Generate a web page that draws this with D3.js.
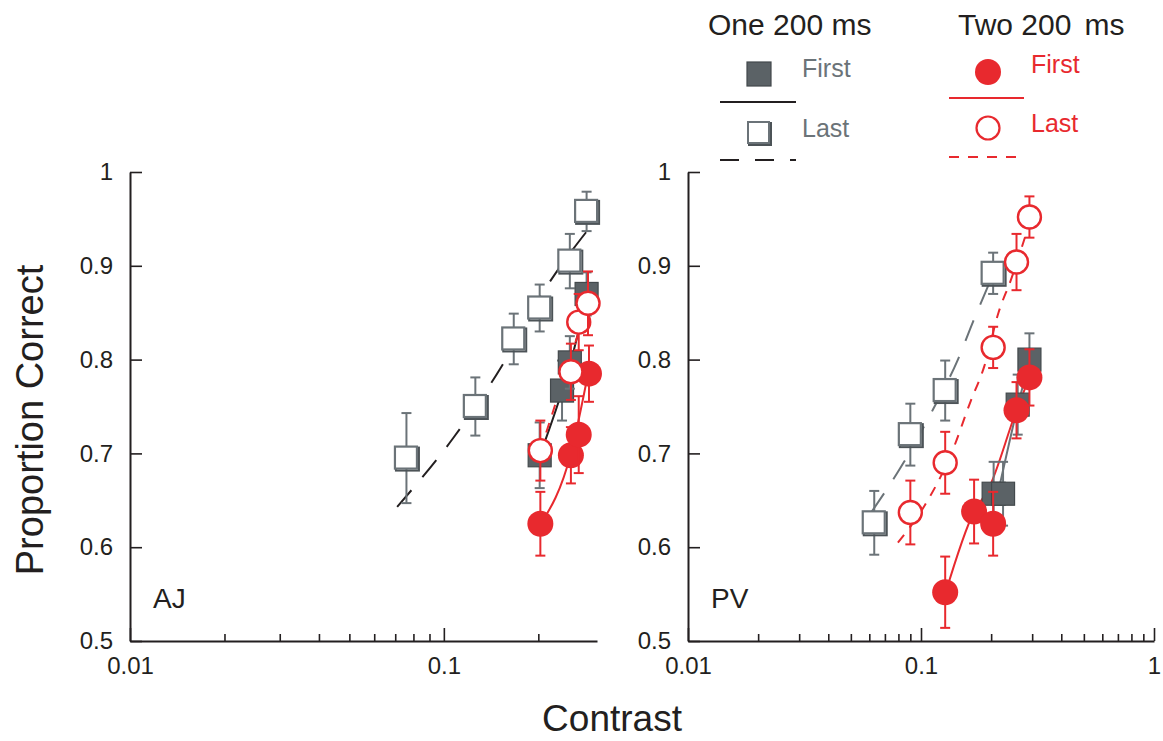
<!DOCTYPE html>
<html>
<head>
<meta charset="utf-8">
<script src="https://cdn.jsdelivr.net/npm/d3@7"></script>
<style>
  body { margin: 0; background: #fff; }
  text { font-family: "Liberation Sans", Arial, Helvetica, sans-serif; }
</style>
</head>
<body>
<div id="chart"></div>
<script>
// ---- data ----
const yTicks = [0.5, 0.6, 0.7, 0.8, 0.9, 1];
const xMajorTicks = [0.01, 0.1, 1];
const xTickLabels = ["0.01", "0.1", "1"];

// AJ
const ajOneLastC  = [0.076, 0.126, 0.167, 0.202, 0.252, 0.285];
const ajOneLastP  = [0.695, 0.750, 0.822, 0.855, 0.905, 0.958];
const ajOneLastSe = [0.048, 0.031, 0.027, 0.025, 0.029, 0.021];
const ajOneFirstC  = [0.202, 0.238, 0.252, 0.285];
const ajOneFirstP  = [0.698, 0.767, 0.797, 0.870];
const ajOneFirstSe = [0.035, 0.032, 0.028, 0.023];
const ajTwoFirstC  = [0.203, 0.254, 0.269, 0.290];
const ajTwoFirstP  = [0.625, 0.698, 0.720, 0.785];
const ajTwoFirstSe = [0.034, 0.030, 0.041, 0.030];
const ajTwoLastC  = [0.203, 0.254, 0.269, 0.288];
const ajTwoLastP  = [0.703, 0.787, 0.840, 0.860];
const ajTwoLastSe = [0.032, 0.030, 0.030, 0.034];
const ajOneLastFit  = [[0.071, 0.643], [0.108, 0.718], [0.151, 0.79], [0.21, 0.875], [0.292, 0.941]];
const ajOneFirstFit = [[0.21, 0.713], [0.25, 0.79], [0.292, 0.88]];
const ajTwoFirstFit = [[0.203, 0.624], [0.254, 0.70], [0.29, 0.79]];
const ajTwoLastFit  = [[0.203, 0.703], [0.288, 0.86]];

// PV
const pvOneLastC  = [0.063, 0.090, 0.127, 0.204];
const pvOneLastP  = [0.626, 0.720, 0.767, 0.892];
const pvOneLastSe = [0.034, 0.033, 0.032, 0.022];
const pvOneFirstC  = [0.205, 0.225, 0.260, 0.292];
const pvOneFirstP  = [0.657, 0.657, 0.752, 0.800];
const pvOneFirstSe = [0.034, 0.034, 0.032, 0.028];
const pvTwoFirstC  = [0.127, 0.169, 0.204, 0.257, 0.292];
const pvTwoFirstP  = [0.552, 0.638, 0.625, 0.746, 0.781];
const pvTwoFirstSe = [0.038, 0.034, 0.034, 0.030, 0.030];
const pvTwoLastC  = [0.090, 0.127, 0.204, 0.257, 0.292];
const pvTwoLastP  = [0.637, 0.690, 0.813, 0.904, 0.952];
const pvTwoLastSe = [0.034, 0.033, 0.022, 0.030, 0.022];
const pvOneLastFit  = [[0.0615, 0.638], [0.0846, 0.691], [0.1127, 0.747], [0.144, 0.8], [0.167, 0.84], [0.2, 0.886]];
const pvOneFirstFit = [[0.215, 0.66], [0.26, 0.75], [0.292, 0.8]];
const pvTwoFirstFit = [[0.127, 0.55], [0.169, 0.638], [0.194, 0.661], [0.257, 0.746], [0.292, 0.781]];
const pvTwoLastFit  = [[0.0796, 0.605], [0.104, 0.645], [0.135, 0.70], [0.163, 0.755], [0.187, 0.793], [0.215, 0.85], [0.244, 0.886], [0.284, 0.936]];

// ---- styles ----
const black = "#231f20";
const gray = "#6b7378";
const darkGray = "#5b6266";
const red = "#e8292e";

const width = 1163, height = 741;
const svg = d3.select("#chart").append("svg")
    .attr("width", width)
    .attr("height", height);

const zip = (c, p, se) => c.map((v, i) => ({ c: v, p: p[i], se: se[i] }));

const panels = [
  {
    label: "AJ", left: 130, right: 597, xMax: 0.3076, fitOne: black,
    oneLast: zip(ajOneLastC, ajOneLastP, ajOneLastSe),
    oneFirst: zip(ajOneFirstC, ajOneFirstP, ajOneFirstSe),
    twoFirst: zip(ajTwoFirstC, ajTwoFirstP, ajTwoFirstSe),
    twoLast: zip(ajTwoLastC, ajTwoLastP, ajTwoLastSe),
    fits: { oneLast: ajOneLastFit, oneFirst: ajOneFirstFit, twoFirst: ajTwoFirstFit, twoLast: ajTwoLastFit }
  },
  {
    label: "PV", left: 688, right: 1154, xMax: 1, fitOne: gray,
    oneLast: zip(pvOneLastC, pvOneLastP, pvOneLastSe),
    oneFirst: zip(pvOneFirstC, pvOneFirstP, pvOneFirstSe),
    twoFirst: zip(pvTwoFirstC, pvTwoFirstP, pvTwoFirstSe),
    twoLast: zip(pvTwoLastC, pvTwoLastP, pvTwoLastSe),
    fits: { oneLast: pvOneLastFit, oneFirst: pvOneFirstFit, twoFirst: pvTwoFirstFit, twoLast: pvTwoLastFit }
  }
];

const yTop = 172, yBottom = 641;

const drawPanel = (p) => {
  const x = d3.scaleLog().domain([0.01, p.xMax]).range([p.left, p.right]);
  const y = d3.scaleLinear().domain([0.5, 1]).range([yBottom, yTop]);
  const g = svg.append("g");

  // minor x ticks
  const minor = [];
  for (let dec = 0.01; dec < p.xMax; dec *= 10) {
    for (let k = 2; k <= 9; k++) {
      const v = +(dec * k).toPrecision(3);
      if (v < p.xMax * 0.97) minor.push(v);
    }
  }
  g.append("g")
      .attr("transform", `translate(0,${yBottom})`)
      .call(d3.axisBottom(x).tickValues(minor).tickSize(-7).tickSizeOuter(0).tickFormat(""))
      .call(a => a.select(".domain").remove());

  const majors = xMajorTicks.filter(v => v <= p.xMax * 1.001);
  const gx = g.append("g")
      .attr("transform", `translate(0,${yBottom})`)
      .call(d3.axisBottom(x).tickValues(majors).tickSize(-13).tickSizeOuter(0).tickPadding(16)
        .tickFormat(d => xTickLabels[xMajorTicks.indexOf(d)]));
  gx.selectAll("text").attr("font-size", 24).attr("fill", black).attr("font-family", null);

  const gy = g.append("g")
      .attr("transform", `translate(${p.left},0)`)
      .call(d3.axisLeft(y).tickValues(yTicks).tickSize(-12).tickSizeOuter(0).tickPadding(17)
        .tickFormat(d => d3.format("")(d)));
  gy.selectAll("text").attr("font-size", 24).attr("fill", black).attr("font-family", null);

  [gx, gy].forEach(a => {
    a.select(".domain").attr("stroke", black).attr("stroke-width", 2);
  });
  g.selectAll(".tick line").attr("stroke", black).attr("stroke-width", 1.6);

  g.append("text")
      .attr("x", p.left + 23)
      .attr("y", 608)
      .attr("font-size", 28)
      .attr("fill", black)
      .text(p.label);

  // fit lines
  const line = d3.line().x(d => x(d[0])).y(d => y(d[1])).curve(d3.curveMonotoneX);
  g.append("path").datum(p.fits.oneLast).attr("d", line)
      .attr("fill", "none").attr("stroke", p.fitOne).attr("stroke-width", 2).attr("stroke-dasharray", "22,17");
  g.append("path").datum(p.fits.oneFirst).attr("d", line)
      .attr("fill", "none").attr("stroke", p.fitOne).attr("stroke-width", 2);
  g.append("path").datum(p.fits.twoLast).attr("d", line)
      .attr("fill", "none").attr("stroke", red).attr("stroke-width", 2).attr("stroke-dasharray", "10,9");
  g.append("path").datum(p.fits.twoFirst).attr("d", line)
      .attr("fill", "none").attr("stroke", red).attr("stroke-width", 2);

  const errorBars = (sel, color) => {
    sel.append("line")
        .attr("x1", 0).attr("x2", 0)
        .attr("y1", d => y(d.p - d.se) - y(d.p))
        .attr("y2", d => y(d.p + d.se) - y(d.p))
        .attr("stroke", color).attr("stroke-width", 2);
    [-1, 1].forEach(s => {
      sel.append("line")
          .attr("x1", -5).attr("x2", 5)
          .attr("y1", d => y(d.p + s * d.se) - y(d.p))
          .attr("y2", d => y(d.p + s * d.se) - y(d.p))
          .attr("stroke", color).attr("stroke-width", 2);
    });
  };

  const series = (data, color, drawMarker) => {
    const pts = g.append("g").selectAll("g")
        .data(data)
        .join("g")
        .attr("transform", d => `translate(${x(d.c)},${y(d.p)})`);
    errorBars(pts, color);
    drawMarker(pts);
  };

  series(p.oneLast, gray, s => {
    s.append("rect").attr("x", -10.5).attr("y", -10.5).attr("width", 23).attr("height", 23)
        .attr("fill", "none").attr("stroke", "#4c5357").attr("stroke-width", 2);
    s.append("rect").attr("x", -11.5).attr("y", -11.5).attr("width", 22).attr("height", 22)
        .attr("fill", "#fff").attr("stroke", gray).attr("stroke-width", 2.2);
  });
  series(p.oneFirst, gray, s => {
    s.append("rect").attr("x", -11.5).attr("y", -11.5).attr("width", 23).attr("height", 23)
        .attr("fill", darkGray).attr("stroke", "#43494c").attr("stroke-width", 1.2);
  });
  series(p.twoFirst, red, s => {
    s.append("circle").attr("r", 13).attr("fill", red);
  });
  series(p.twoLast, red, s => {
    s.append("circle").attr("r", 11.5).attr("fill", "#fff").attr("stroke", red).attr("stroke-width", 2.4);
  });
};

panels.forEach(drawPanel);

// axis titles
svg.append("text")
    .attr("transform", "translate(43,420) rotate(-90)")
    .attr("text-anchor", "middle")
    .attr("font-size", 38)
    .attr("fill", black)
    .text("Proportion Correct");

svg.append("text")
    .attr("x", 612)
    .attr("y", 731)
    .attr("text-anchor", "middle")
    .attr("font-size", 37)
    .attr("fill", black)
    .text("Contrast");

// legend
const legend = svg.append("g");
legend.append("text").attr("x", 708).attr("y", 35).attr("font-size", 30).attr("fill", black).text("One 200 ms");
const two = legend.append("text").attr("x", 958).attr("y", 35).attr("font-size", 30).attr("fill", black);
two.append("tspan").text("Two 200");
two.append("tspan").attr("dx", 13).text("ms");

legend.append("rect").attr("x", 747).attr("y", 62).attr("width", 24).attr("height", 24)
    .attr("fill", darkGray).attr("stroke", "#43494c").attr("stroke-width", 1.2);
legend.append("text").attr("x", 802).attr("y", 77).attr("font-size", 25).attr("fill", gray).text("First");
legend.append("line").attr("x1", 720).attr("x2", 796).attr("y1", 102).attr("y2", 102)
    .attr("stroke", black).attr("stroke-width", 2);
legend.append("rect").attr("x", 749).attr("y", 123).attr("width", 22).attr("height", 22)
    .attr("fill", "none").attr("stroke", "#4c5357").attr("stroke-width", 2);
legend.append("rect").attr("x", 748).attr("y", 122).attr("width", 21).attr("height", 21)
    .attr("fill", "#fff").attr("stroke", gray).attr("stroke-width", 2);
legend.append("text").attr("x", 802).attr("y", 137).attr("font-size", 25).attr("fill", gray).text("Last");
legend.append("line").attr("x1", 720).attr("x2", 796).attr("y1", 160).attr("y2", 160)
    .attr("stroke", black).attr("stroke-width", 2).attr("stroke-dasharray", "19,16");

legend.append("circle").attr("cx", 988).attr("cy", 72).attr("r", 13).attr("fill", red);
legend.append("text").attr("x", 1031).attr("y", 73).attr("font-size", 25).attr("fill", red).text("First");
legend.append("line").attr("x1", 949).attr("x2", 1024).attr("y1", 98).attr("y2", 98)
    .attr("stroke", red).attr("stroke-width", 2);
legend.append("circle").attr("cx", 988).attr("cy", 128).attr("r", 11.5)
    .attr("fill", "#fff").attr("stroke", red).attr("stroke-width", 2.2);
legend.append("text").attr("x", 1031).attr("y", 132).attr("font-size", 25).attr("fill", red).text("Last");
legend.append("line").attr("x1", 949).attr("x2", 1024).attr("y1", 157).attr("y2", 157)
    .attr("stroke", red).attr("stroke-width", 2).attr("stroke-dasharray", "10,9");
</script>
</body>
</html>
